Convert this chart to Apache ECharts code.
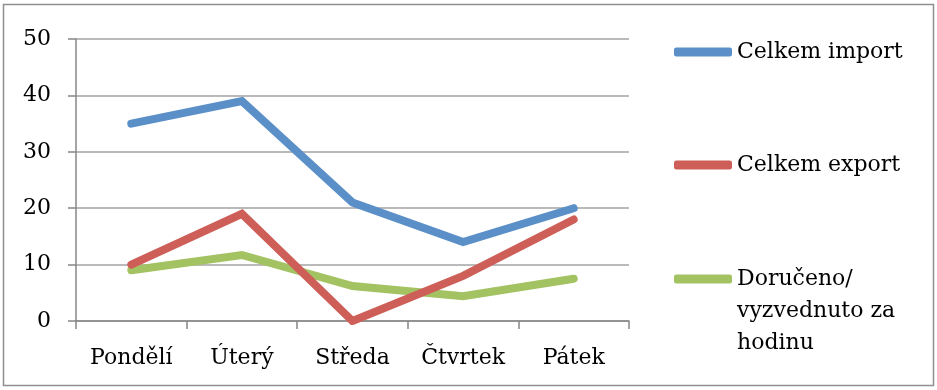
<!DOCTYPE html>
<html>
<head>
<meta charset="utf-8">
<script src="https://cdn.jsdelivr.net/npm/echarts@6/dist/echarts.min.js"></script>
<style>
  html, body { margin: 0; padding: 0; background: #fff; }
  #chart { width: 937px; height: 390px; }
</style>
</head>
<body>
<div id="chart"></div>
<script>
// Days of the week
const days = ['Pondělí', 'Úterý', 'Středa', 'Čtvrtek', 'Pátek'];

// Series names and values
const seriesNames = ['Celkem import', 'Celkem export', 'Doručeno/\nvyzvednuto za\nhodinu'];
const importTotal = [35, 39, 21, 14, 20];
const exportTotal = [10, 19, 0, 8, 18];
const deliveredPerHour = [9, 11.7, 6.2, 4.4, 7.5];

// Value axis ticks
const yTicks = [0, 10, 20, 30, 40, 50];

const colors = ['#5A8FC8', '#CD5F58', '#A3C262'];
const font = 'DejaVu Serif';

const chart = echarts.init(document.getElementById('chart'), null, { renderer: 'canvas' });

// One legend block per series so each entry can sit at its own height.
// Multi-line names get blank lines on top so the first line stays level with the swatch.
function legendFor(i, top) {
  return {
    data: [seriesNames[i]],
    left: 674,
    top: top,
    orient: 'vertical',
    icon: 'roundRect',
    itemWidth: 58,
    itemHeight: 9,
    itemGap: 0,
    padding: 0,
    selectedMode: false,
    formatter: name => {
      const n = name.split('\n').length;
      return '\n'.repeat(n - 1) + name;
    },
    textStyle: { fontFamily: font, fontSize: 22, color: '#000', lineHeight: 32 }
  };
}

const seriesData = [importTotal, exportTotal, deliveredPerHour];

chart.setOption({
  animation: false,
  color: colors,
  graphic: [{
    type: 'rect',
    shape: { x: 3.5, y: 4.5, width: 930, height: 381 },
    style: { fill: 'none', stroke: '#8f8f8f', lineWidth: 1.5 },
    silent: true
  }],
  grid: { left: 76, right: 308, top: 39, bottom: 69 },
  xAxis: {
    type: 'category',
    data: days,
    boundaryGap: true,
    axisLine: { lineStyle: { color: '#878787', width: 1.5 } },
    axisTick: { show: true, length: 8, lineStyle: { color: '#878787', width: 1.5 } },
    axisLabel: { fontFamily: font, fontSize: 22, color: '#000', margin: 26 }
  },
  yAxis: {
    type: 'value',
    min: yTicks[0],
    max: yTicks[yTicks.length - 1],
    interval: yTicks[1] - yTicks[0],
    axisLine: { show: true, lineStyle: { color: '#878787', width: 1.5 } },
    axisTick: { show: true, length: 8, lineStyle: { color: '#878787', width: 1.5 } },
    splitLine: { lineStyle: { color: '#a3a3a3', width: 1.5 } },
    axisLabel: { fontFamily: font, fontSize: 22, color: '#000', margin: 25 }
  },
  legend: [
    legendFor(0, 36),
    legendFor(1, 149),
    legendFor(2, 199)
  ],
  series: seriesData.map((d, i) => ({
    name: seriesNames[i],
    type: 'line',
    data: d,
    showSymbol: false,
    symbol: 'none',
    lineStyle: { width: 8, color: colors[i], cap: 'round', join: 'miter' },
    z: 3 - i
  }))
});
</script>
</body>
</html>
